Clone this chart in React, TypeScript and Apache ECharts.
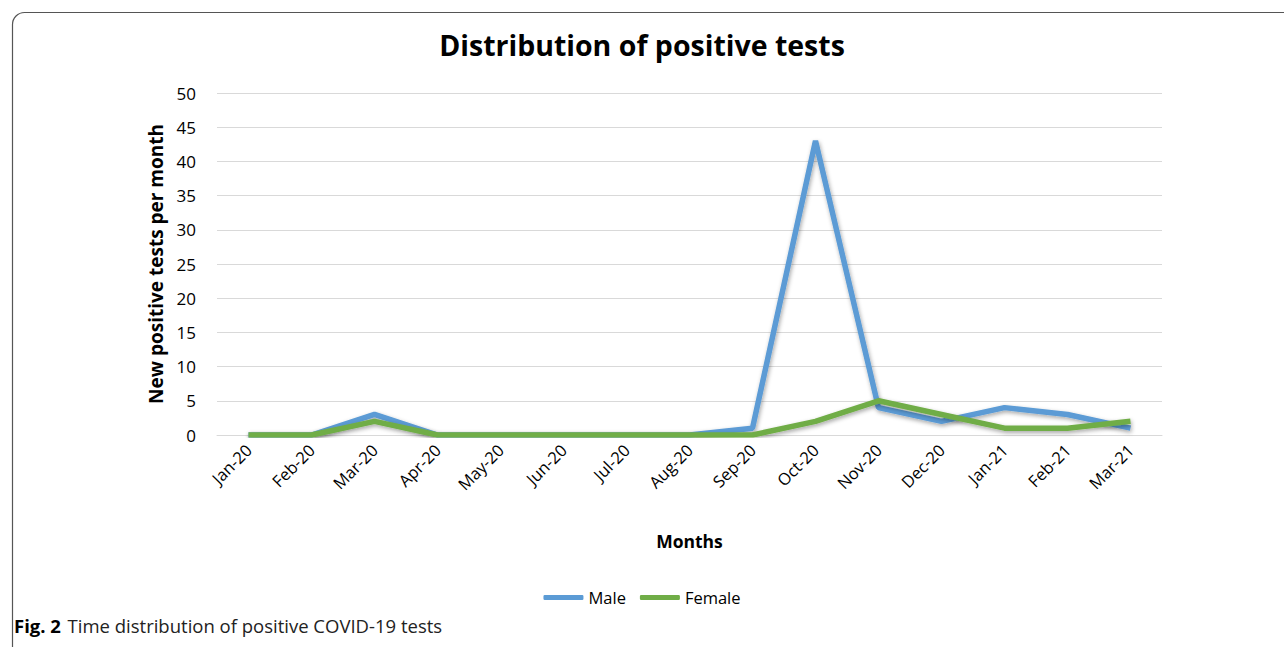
import React, { useEffect, useRef } from "react";
import * as echarts from "echarts";

const months = ["Jan-20","Feb-20","Mar-20","Apr-20","May-20","Jun-20","Jul-20","Aug-20","Sep-20","Oct-20","Nov-20","Dec-20","Jan-21","Feb-21","Mar-21"];
const male = [0,0,3,0,0,0,0,0,1,43,4,2,4,3,1];
const female = [0,0,2,0,0,0,0,0,0,2,5,3,1,1,2];

export default function App() {
  const ref = useRef<HTMLDivElement>(null);
  useEffect(() => {
    const chart = echarts.init(ref.current!, null, { renderer: "svg" });
    const font = "Open Sans";
    const lineStyle = (c: string) => ({ width: 5.5, color: c, shadowColor: "rgba(0,0,0,0.35)", shadowBlur: 4, shadowOffsetX: 1, shadowOffsetY: 2 });
    chart.setOption({
      animation: false,
      backgroundColor: "#fff",
      title: {
        text: "Distribution of positive tests",
        left: "center", top: 25,
        textStyle: { fontFamily: font, fontWeight: "bold", fontSize: 28.5, color: "#000" },
      },
      legend: {
        bottom: 36, left: "center",
        itemWidth: 40, itemHeight: 5, itemGap: 14,
        icon: "roundRect",
        textStyle: { fontFamily: font, fontSize: 16.5, color: "#000" },
        data: ["Male", "Female"],
      },
      grid: { left: 217, right: 122, top: 93, bottom: 212 },
      xAxis: {
        type: "category", data: months, boundaryGap: true,
        name: "Months", nameLocation: "middle", nameGap: 97,
        nameTextStyle: { fontFamily: font, fontWeight: "bold", fontSize: 17.5, color: "#000" },
        axisLine: { lineStyle: { color: "#d9d9d9", width: 1 } },
        axisTick: { show: false },
        axisLabel: { rotate: 45, fontFamily: font, fontSize: 16.5, color: "#000", margin: 12, interval: 0 },
      },
      yAxis: {
        type: "value", min: 0, max: 50, interval: 5,
        name: "New positive tests per month", nameLocation: "middle", nameGap: 52,
        nameTextStyle: { fontFamily: font, fontWeight: "bold", fontSize: 19, color: "#000" },
        axisLine: { show: false }, axisTick: { show: false },
        axisLabel: { fontFamily: font, fontSize: 17, color: "#000", margin: 21 },
        splitLine: { lineStyle: { color: "#d9d9d9", width: 1 } },
      },
      series: [
        { name: "Male", type: "line", data: male, symbol: "none", color: "#5B9BD5", lineStyle: lineStyle("#5B9BD5") },
        { name: "Female", type: "line", data: female, symbol: "none", color: "#70AD47", lineStyle: lineStyle("#70AD47") },
      ],
      graphic: [
        {
          type: "rect", left: 10, top: 10,
          shape: { width: 1400, height: 800, r: [12, 0, 0, 0] },
          style: { fill: "none", stroke: "#555", lineWidth: 1.2 },
          silent: true,
        },
        {
          type: "text", left: 14, top: 616,
          style: {
            text: "{b|Fig. 2}  {n|Time distribution of positive COVID-19 tests}",
            rich: {
              b: { fontFamily: font, fontWeight: "bold", fontSize: 18.5, fill: "#000" },
              n: { fontFamily: font, fontSize: 18.5, fill: "#222" },
            },
          },
        },
      ],
    });
    return () => chart.dispose();
  }, []);
  return <div ref={ref} style={{ width: 1284, height: 647, position: "absolute", left: 0, top: 0 }} />;
}
